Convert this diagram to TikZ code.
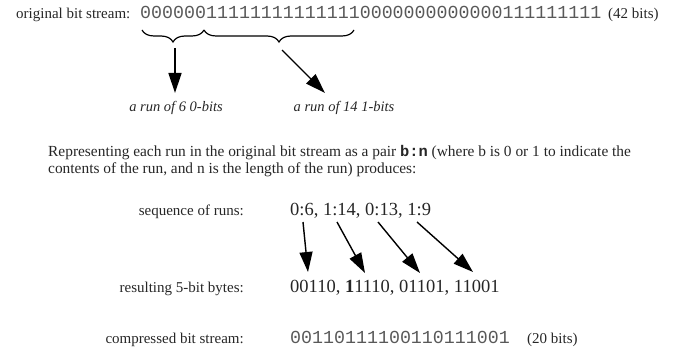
\documentclass[tikz,border=0pt]{standalone}
\usepackage{fontspec}
\setmainfont{Liberation Serif}
\setmonofont{Liberation Mono}
\usetikzlibrary{decorations.pathreplacing,arrows.meta}
\begin{document}
\begin{tikzpicture}[x=1pt,y=-1pt,
  txt/.style={inner sep=0pt, font=\fontsize{15}{18}\selectfont, text=black!85},
  para/.style={inner sep=0pt, font=\fontsize{15.4}{18}\selectfont, text=black!85},
  bits/.style={inner sep=0pt, font=\ttfamily\fontsize{18.3}{20}\selectfont, text=black!65},
  big/.style={inner sep=0pt, font=\fontsize{18.5}{22}\selectfont, text=black!85},
  lbl/.style={inner sep=0pt, font=\itshape\fontsize{14.5}{17}\selectfont, text=black!85},
  arr/.style={line width=1.4pt, -{Triangle[length=20pt,width=13pt]}},
  brc/.style={decorate, decoration={brace, mirror, amplitude=12pt}, line width=1.2pt}]
\useasboundingbox (0,0) rectangle (675,350);
% top row
\node[txt, anchor=base west] (lab) at (16,19) {original bit stream:};
\node[bits, anchor=base west] (stream) at (140,19) {000000111111111111110000000000000111111111};
\node[txt, anchor=base west] (n42) at (608,19) {(42 bits)};
% braces
\coordinate (b1s) at (142,30);
\coordinate (b1e) at (204,30);
\coordinate (b2e) at (354,30);
\draw[brc] (b1s) -- (b1e);
\draw[brc] (b1e) -- (b2e);
% arrows to labels
\coordinate (t1) at (175,48);
\coordinate (e1) at (175,93);
\coordinate (t2) at (282,50);
\coordinate (e2) at (325,93);
\draw[arr] (t1) -- (e1);
\draw[arr] (t2) -- (e2);
\node[lbl, anchor=base] (r6) at (176,112) {a run of 6 0-bits};
\node[lbl, anchor=base] (r14) at (344,112) {a run of 14 1-bits};
% paragraph
\node[para, anchor=base west] (p1) at (48,157) {Representing each run in the original bit stream as a pair {\ttfamily\bfseries b:n} (where b is 0 or 1 to indicate the};
\node[para, anchor=base west] (p2) at (48,174) {contents of the run, and n is the length of the run) produces:};
% rows
\node[txt, anchor=base east] (sq) at (244,215) {sequence of runs:};
\node[big, anchor=base west] (runs) at (290,215) {0:6, 1:14, 0:13, 1:9};
\node[txt, anchor=base east] (rs) at (244,292) {resulting 5-bit bytes:};
\node[big, anchor=base west] (bytes) at (290,292) {00110, \textbf{1}1110, 01101, 11001};
\node[txt, anchor=base east] (cb) at (244,343) {compressed bit stream:};
\node[bits, anchor=base west] (comp) at (290,343) {00110111100110111001};
\node[txt, anchor=base west] (n20) at (527,343) {(20 bits)};
% lower arrows
\coordinate (s1) at (303,222); \coordinate (d1) at (308,272);
\coordinate (s2) at (337,222); \coordinate (d2) at (365,273);
\coordinate (s3) at (378,222); \coordinate (d3) at (420,273);
\coordinate (s4) at (417,222); \coordinate (d4) at (473,272);
\draw[arr] (s1) -- (d1);
\draw[arr] (s2) -- (d2);
\draw[arr] (s3) -- (d3);
\draw[arr] (s4) -- (d4);
\end{tikzpicture}
\end{document}
